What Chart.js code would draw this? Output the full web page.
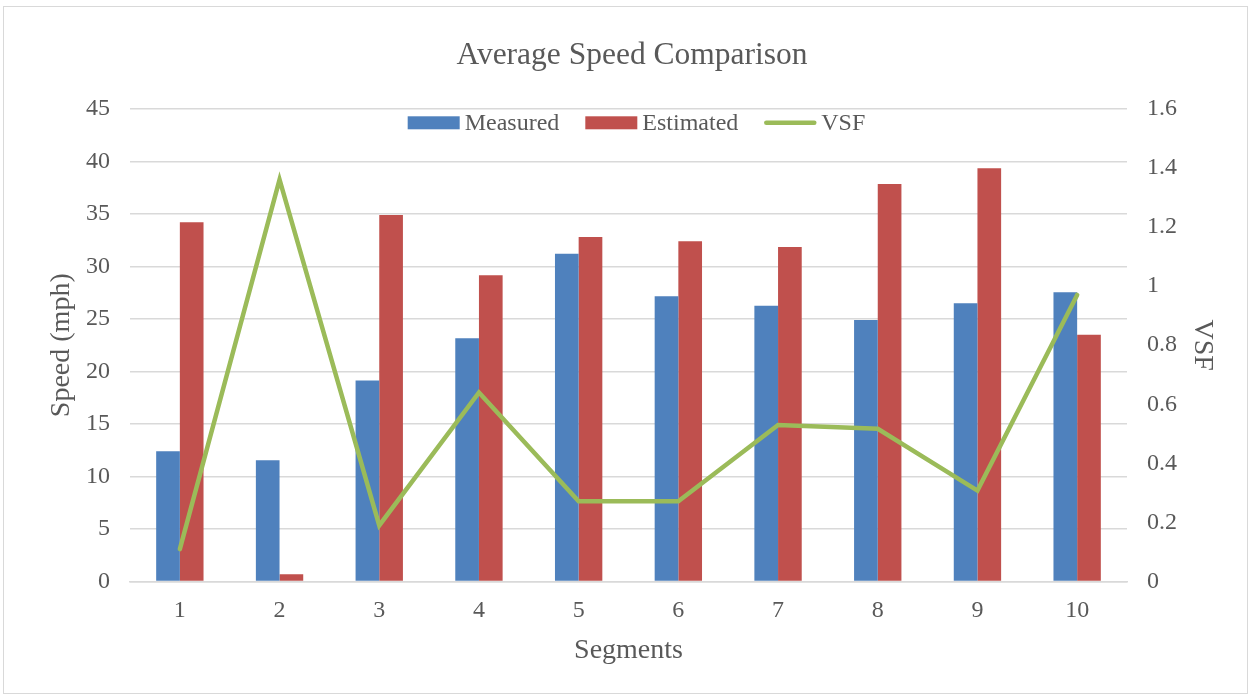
<!DOCTYPE html>
<html>
<head>
<meta charset="utf-8">
<script src="https://cdn.jsdelivr.net/npm/chart.js@4.4.0/dist/chart.umd.min.js"></script>
<style>
  html, body { margin: 0; padding: 0; background: #fff; }
  #wrap {
    position: absolute; left: 3px; top: 6px;
    width: 1243px; height: 686px;
    border: 1px solid #D9D9D9;
  }
  #chart { display: block; }
</style>
</head>
<body>
<div id="wrap"><canvas id="chart" width="1243" height="686"></canvas></div>
<script>
// Chart data
const segments = ['1', '2', '3', '4', '5', '6', '7', '8', '9', '10'];
const measured = [12.4, 11.55, 19.15, 23.15, 31.2, 27.15, 26.25, 24.9, 26.5, 27.55];
const estimated = [34.2, 0.7, 34.9, 29.15, 32.8, 32.4, 31.85, 37.85, 39.35, 23.5];
const vsf = [0.11, 1.36, 0.19, 0.64, 0.272, 0.272, 0.53, 0.517, 0.308, 0.97];

const textColor = '#595959';
const gridColor = '#D9D9D9';
const serif = "'Liberation Serif', 'DejaVu Serif', serif";

Chart.defaults.font.family = serif;
Chart.defaults.color = textColor;

/**
 * Draws a horizontal legend inside the top of the plot area,
 * the way the spreadsheet chart does it.
 */
const insideLegend = {
  id: 'insideLegend',
  afterDraw: (chart) => {
    const c = chart.ctx;
    const area = chart.chartArea;
    const boxW = 52, boxH = 13, gap = 5, spacing = 26;
    c.save();
    c.font = '24px ' + serif;
    c.textBaseline = 'middle';
    const items = chart.data.datasets.map((ds) => ({
      text: ds.label,
      color: ds.type === 'line' ? ds.borderColor : ds.backgroundColor,
      line: ds.type === 'line',
      w: c.measureText(ds.label).width
    }));
    let total = 0;
    items.forEach((it, i) => {
      total += boxW + gap + it.w + (i < items.length - 1 ? spacing : 0);
    });
    let x = (area.left + area.right) / 2 - total / 2 + 8;
    const y = area.top + 14;
    items.forEach((it) => {
      if (it.line) {
        c.strokeStyle = it.color;
        c.lineWidth = 4.5;
        c.lineCap = 'round';
        c.beginPath();
        c.moveTo(x + 2, y);
        c.lineTo(x + boxW - 2, y);
        c.stroke();
      }
      else {
        c.fillStyle = it.color;
        c.fillRect(x, y - boxH / 2, boxW, boxH);
      }
      c.fillStyle = textColor;
      c.fillText(it.text, x + boxW + gap, y + 1);
      x += boxW + gap + it.w + spacing;
    });
    c.restore();
  }
};

const ctx = document.getElementById('chart');
new Chart(ctx, {
  type: 'bar',
  data: {
    labels: segments,
    datasets: [
      {
        label: 'Measured',
        data: measured,
        backgroundColor: '#4F81BD',
        yAxisID: 'y',
        order: 2,
        categoryPercentage: 0.475,
        barPercentage: 1.0
      },
      {
        label: 'Estimated',
        data: estimated,
        backgroundColor: '#C0504D',
        yAxisID: 'y',
        order: 2,
        categoryPercentage: 0.475,
        barPercentage: 1.0
      },
      {
        type: 'line',
        label: 'VSF',
        data: vsf,
        borderColor: '#9BBB59',
        backgroundColor: '#9BBB59',
        borderWidth: 4.5,
        pointRadius: 0,
        tension: 0,
        borderCapStyle: 'round',
        yAxisID: 'y1',
        order: 1
      }
    ]
  },
  plugins: [insideLegend],
  options: {
    responsive: false,
    animation: false,
    layout: { padding: { top: 16, left: 41, right: 28, bottom: 26 } },
    plugins: {
      title: {
        display: true,
        text: 'Average Speed Comparison',
        color: textColor,
        font: { size: 31.5, weight: 'normal' },
        padding: { top: 14, bottom: 34 }
      },
      legend: { display: false },
      tooltip: { enabled: false }
    },
    scales: {
      x: {
        grid: { display: false, drawTicks: false },
        border: { display: true, color: gridColor, width: 1.5 },
        ticks: { color: textColor, font: { size: 24 }, padding: 15 },
        title: {
          display: true,
          text: 'Segments',
          color: textColor,
          font: { size: 28 },
          padding: { top: -7, bottom: 0 }
        }
      },
      y: {
        position: 'left',
        min: 0,
        max: 45,
        afterFit: (scale) => { scale.width = 85; },
        ticks: { stepSize: 5, color: textColor, font: { size: 24 }, padding: 20 },
        grid: { color: gridColor, lineWidth: 1.5, drawTicks: false },
        border: { display: false },
        title: {
          display: true,
          text: 'Speed (mph)',
          color: textColor,
          font: { size: 28 },
          padding: { top: 0, bottom: 0 }
        }
      },
      y1: {
        position: 'right',
        min: 0,
        max: 1.6,
        afterFit: (scale) => { scale.width = 92; },
        ticks: {
          stepSize: 0.2,
          color: textColor,
          font: { size: 24 },
          padding: 20,
          callback: (v) => String(Math.round(v * 10) / 10)
        },
        grid: { display: false, drawTicks: false },
        border: { display: false },
        title: {
          display: true,
          text: 'VSF',
          color: textColor,
          font: { size: 28 },
          padding: { top: 0, bottom: 0 }
        }
      }
    }
  }
});
</script>
</body>
</html>
